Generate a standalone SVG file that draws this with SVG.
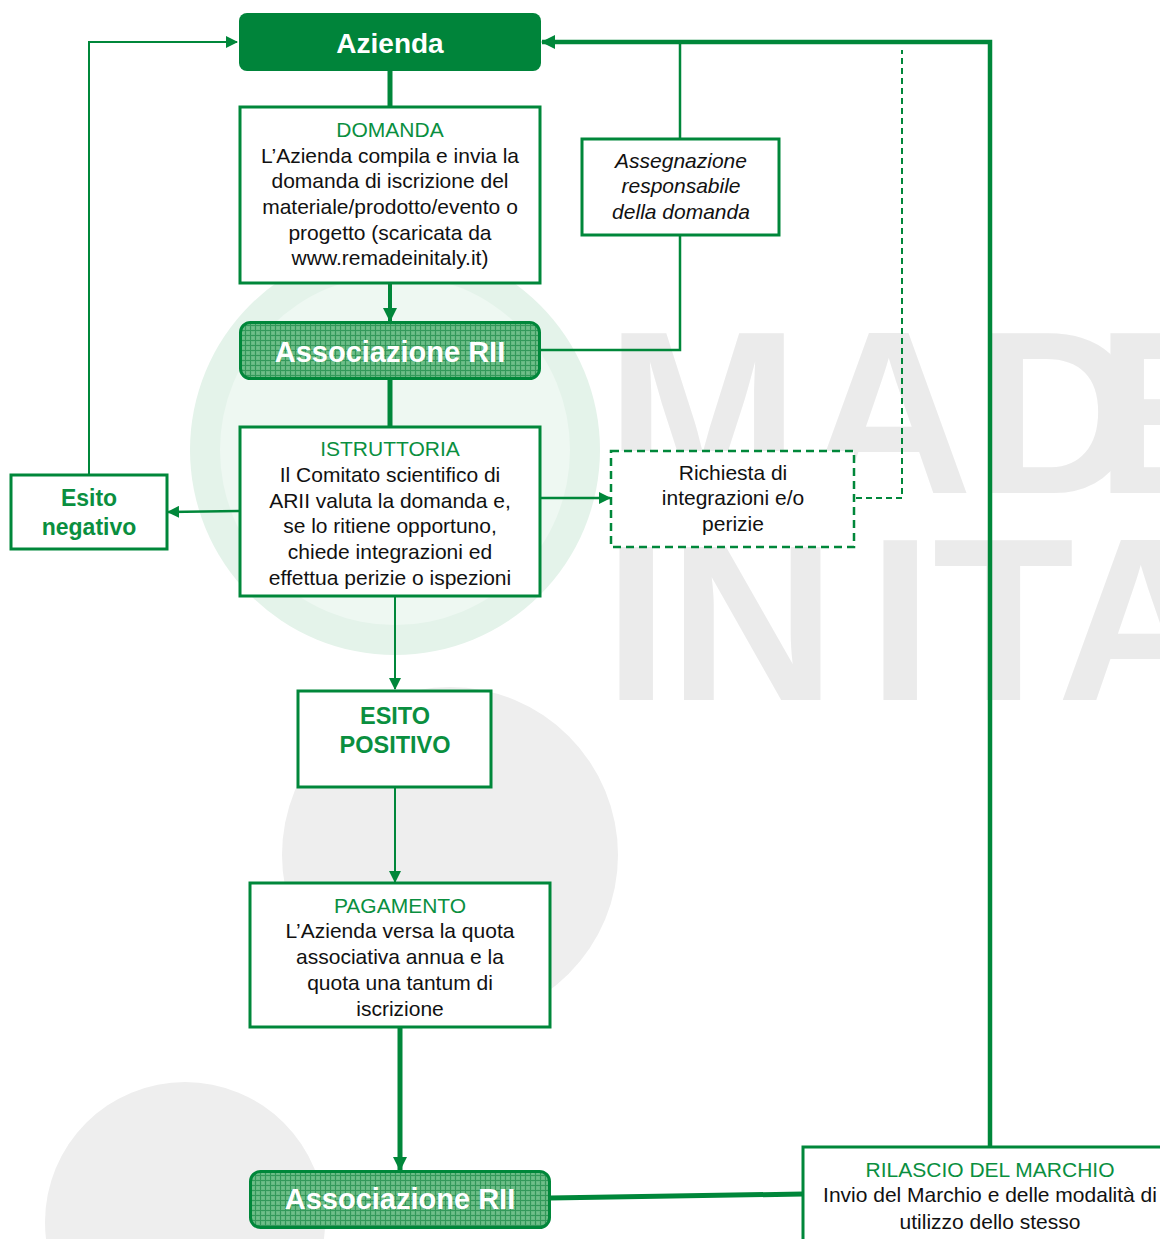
<svg xmlns="http://www.w3.org/2000/svg" width="1160" height="1239" viewBox="0 0 1160 1239">
<defs>
<style>
.t{font-family:"Liberation Sans",Arial,sans-serif;font-size:21px;fill:#111;text-anchor:middle}
.g{fill:#0a8f3f}
.i{font-style:italic}
.b{font-weight:bold}
.hw{font-family:"Liberation Sans",Arial,sans-serif;font-weight:bold;font-size:29px;fill:#fff;text-anchor:middle}
.bx{fill:#fff;stroke:#00873a;stroke-width:3}
.ln{fill:none;stroke:#00873a}
.wm{font-family:"Liberation Sans",Arial,sans-serif;font-weight:bold;font-size:232px;fill:#ebebeb}
</style>
<pattern id="hatch" width="5" height="5" patternUnits="userSpaceOnUse">
<rect width="5" height="5" fill="#66b982"/>
<path d="M0 0.5H5M0.5 0V5" stroke="#33985a" stroke-width="1"/>
<rect x="2.5" y="2.5" width="1" height="1" fill="#8fcca3"/>
</pattern>
<marker id="ah" markerUnits="userSpaceOnUse" markerWidth="14" markerHeight="14" viewBox="0 0 14 14" refX="13" refY="7" orient="auto">
<path d="M0 0L14 7L0 14Z" fill="#00873a"/>
</marker>
<marker id="as" markerUnits="userSpaceOnUse" markerWidth="12" markerHeight="12" viewBox="0 0 12 12" refX="11" refY="6" orient="auto">
<path d="M0 0L12 6L0 12Z" fill="#00873a"/>
</marker>
</defs>
<rect width="1160" height="1239" fill="#fff"/>
<g id="watermark">
<circle cx="395" cy="450" r="205" fill="#e4f3ea"/>
<circle cx="395" cy="450" r="175" fill="#eef8f2"/>
<circle cx="450" cy="855" r="168" fill="#eeeeee"/>
<circle cx="185" cy="1222" r="140" fill="#eeeeee"/>
<text class="wm" y="493"><tspan x="606">M</tspan><tspan x="805">A</tspan><tspan x="974">D</tspan><tspan x="1095">E</tspan></text>
<text class="wm" y="700"><tspan x="604">IN</tspan><tspan x="868">ITA</tspan></text>
</g>
<g id="connectors">
<line class="ln" x1="390" y1="70" x2="390" y2="107" stroke-width="5"/>
<line class="ln" x1="390" y1="284" x2="390" y2="321" stroke-width="4" marker-end="url(#ah)"/>
<line class="ln" x1="390" y1="379" x2="390" y2="427" stroke-width="5"/>
<polyline class="ln" points="541,350 680,350 680,236" stroke-width="2.5"/>
<line class="ln" x1="680" y1="138" x2="680" y2="42" stroke-width="2.5"/>
<polyline class="ln" points="990,1147 990,42 542,42" stroke-width="4.5" marker-end="url(#ah)"/>
<line class="ln" x1="239" y1="511" x2="168" y2="512" stroke-width="2.5" marker-end="url(#as)"/>
<polyline class="ln" points="89,474 89,42 237,42" stroke-width="2" marker-end="url(#as)"/>
<line class="ln" x1="541" y1="498" x2="610" y2="498" stroke-width="2.5" marker-end="url(#as)"/>
<polyline class="ln" points="856,498 902,498 902,50" stroke-width="2" stroke-dasharray="6,4"/>
<line class="ln" x1="395" y1="597" x2="395" y2="689" stroke-width="2" marker-end="url(#as)"/>
<line class="ln" x1="395" y1="788" x2="395" y2="882" stroke-width="2" marker-end="url(#as)"/>
<line class="ln" x1="400" y1="1028" x2="400" y2="1170" stroke-width="5" marker-end="url(#ah)"/>
<line class="ln" x1="550" y1="1198" x2="803" y2="1194" stroke-width="5"/>
</g>
<g id="azienda">
<rect x="239" y="13" width="302" height="58" rx="8" fill="#00843a"/>
<text class="hw" x="390" y="53" style="font-size:28px">Azienda</text>
</g>
<g id="domanda">
<rect class="bx" x="240" y="107" width="300" height="176"/>
<text class="t g" x="390" y="137">DOMANDA</text>
<text class="t" x="390" y="163">L’Azienda compila e invia la</text>
<text class="t" x="390" y="188">domanda di iscrizione  del</text>
<text class="t" x="390" y="214">materiale/prodotto/evento o</text>
<text class="t" x="390" y="240">progetto (scaricata da</text>
<text class="t" x="390" y="265">www.remadeinitaly.it)</text>
</g>
<g id="assegnazione">
<rect class="bx" x="582" y="139" width="197" height="96" stroke-width="2.5"/>
<text class="t i" x="681" y="168">Assegnazione</text>
<text class="t i" x="681" y="193">responsabile</text>
<text class="t i" x="681" y="219">della domanda</text>
</g>
<g id="associazione1">
<rect x="240.5" y="322.5" width="299" height="56" rx="10" fill="url(#hatch)" stroke="#00873a" stroke-width="3"/>
<text class="hw" x="390" y="362">Associazione RII</text>
</g>
<g id="istruttoria">
<rect class="bx" x="240" y="427" width="300" height="169"/>
<text class="t g" x="390" y="456">ISTRUTTORIA</text>
<text class="t" x="390" y="482">Il Comitato scientifico di</text>
<text class="t" x="390" y="508">ARII valuta la domanda e,</text>
<text class="t" x="390" y="533">se lo ritiene opportuno,</text>
<text class="t" x="390" y="559">chiede integrazioni ed</text>
<text class="t" x="390" y="585">effettua perizie o ispezioni</text>
</g>
<g id="esito-negativo">
<rect class="bx" x="11" y="475" width="156" height="74" stroke-width="2.5"/>
<text class="t g b" x="89" y="506" style="font-size:23px">Esito</text>
<text class="t g b" x="89" y="535" style="font-size:23px">negativo</text>
</g>
<g id="richiesta">
<rect x="611" y="451" width="243" height="96" fill="#fff" stroke="#00873a" stroke-width="2.5" stroke-dasharray="8,5"/>
<text class="t" x="733" y="480">Richiesta di</text>
<text class="t" x="733" y="505">integrazioni e/o</text>
<text class="t" x="733" y="531">perizie</text>
</g>
<g id="esito-positivo">
<rect class="bx" x="298" y="691" width="193" height="96" stroke-width="4"/>
<text class="t g b" x="395" y="724" style="font-size:23.5px">ESITO</text>
<text class="t g b" x="395" y="753" style="font-size:23.5px">POSITIVO</text>
</g>
<g id="pagamento">
<rect class="bx" x="250" y="883" width="300" height="144"/>
<text class="t g" x="400" y="913">PAGAMENTO</text>
<text class="t" x="400" y="938">L’Azienda versa la quota</text>
<text class="t" x="400" y="964">associativa annua e la</text>
<text class="t" x="400" y="990">quota una tantum di</text>
<text class="t" x="400" y="1016">iscrizione</text>
</g>
<g id="associazione2">
<rect x="250.5" y="1171.5" width="299" height="56" rx="10" fill="url(#hatch)" stroke="#00873a" stroke-width="3"/>
<text class="hw" x="400" y="1209">Associazione RII</text>
</g>
<g id="rilascio">
<rect class="bx" x="803" y="1147" width="370" height="100"/>
<text class="t g" x="990" y="1177">RILASCIO DEL MARCHIO</text>
<text class="t" x="990" y="1202">Invio del Marchio e delle modalità di</text>
<text class="t" x="990" y="1229">utilizzo dello stesso</text>
</g>
</svg>
